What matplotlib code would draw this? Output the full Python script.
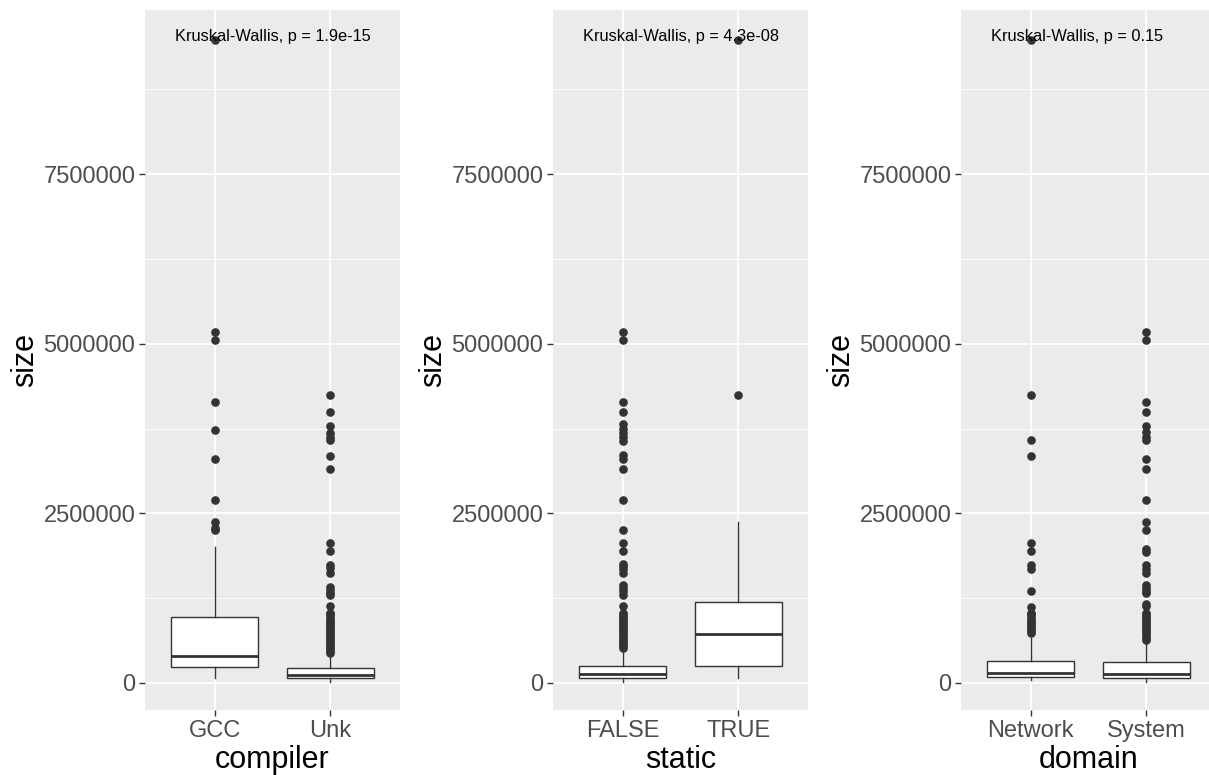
import matplotlib
matplotlib.use("Agg")
import matplotlib.pyplot as plt
from matplotlib.ticker import FixedLocator, FuncFormatter

plt.rcParams['font.family'] = ['Liberation Sans', 'DejaVu Sans']

# ---------------- data ----------------
panel_vars = ["compiler", "static", "domain"]
panel_pvals = ["Kruskal-Wallis, p = 1.9e-15", "Kruskal-Wallis, p = 4.3e-08", "Kruskal-Wallis, p = 0.15"]

compiler_cats = ["GCC", "Unk"]
compiler_whislo = [69000, 20000]
compiler_q1 = [240000, 69000]
compiler_med = [398000, 118000]
compiler_q3 = [977000, 225000]
compiler_whishi = [2000000, 420000]
gcc_out = [9470000, 5170000, 5050000, 4140000, 3730000, 3300000, 2700000, 2370000, 2290000, 2250000]
unk_out = [440000, 470000, 500000, 530000, 560000, 590000, 620000, 650000, 680000, 710000,
           740000, 770000, 800000, 830000, 860000, 890000, 920000, 950000, 980000, 1010000,
           1030000, 1140000, 1300000, 1330000, 1370000, 1420000, 1620000, 1690000, 1740000,
           1950000, 2060000, 3160000, 3350000, 3580000, 3630000, 3690000, 3780000, 4000000, 4250000]

static_cats = ["FALSE", "TRUE"]
static_whislo = [20000, 69000]
static_q1 = [69000, 255000]
static_med = [133000, 722000]
static_q3 = [255000, 1190000]
static_whishi = [511000, 2370000]
false_out = [520000, 550000, 580000, 610000, 640000, 670000, 700000, 730000, 760000, 790000,
             820000, 850000, 880000, 910000, 940000, 970000, 1000000, 1030000, 1135000,
             1300000, 1350000, 1400000, 1440000, 1620000, 1680000, 1720000, 1760000,
             1940000, 2060000, 2250000, 2700000, 3160000, 3300000, 3360000, 3560000,
             3620000, 3680000, 3740000, 3820000, 4000000, 4140000, 5050000, 5170000]
true_out = [4250000, 9470000]

domain_cats = ["Network", "System"]
domain_whislo = [50000, 20000]
domain_q1 = [84000, 69000]
domain_med = [152000, 133000]
domain_q3 = [329000, 309000]
domain_whishi = [658000, 634000]
network_out = [740000, 770000, 800000, 830000, 860000, 890000, 920000, 950000, 980000, 1010000,
               1030000, 1120000, 1360000, 1680000, 1740000, 1945000, 2060000, 3350000, 3580000,
               4250000, 9470000]
system_out = [640000, 670000, 700000, 730000, 760000, 790000, 820000, 850000, 880000, 910000,
              940000, 970000, 1000000, 1030000, 1130000, 1170000, 1320000, 1360000, 1400000,
              1440000, 1620000, 1680000, 1740000, 1930000, 1980000, 2250000, 2370000, 2700000,
              3160000, 3300000, 3580000, 3630000, 3700000, 3780000, 4000000, 4140000, 5050000,
              5170000]

y_ticks = [0, 2500000, 5000000, 7500000]
y_minor = [1250000, 3750000, 6250000, 8750000]

panels = [
    (compiler_cats, compiler_whislo, compiler_q1, compiler_med, compiler_q3, compiler_whishi, [gcc_out, unk_out]),
    (static_cats, static_whislo, static_q1, static_med, static_q3, static_whishi, [false_out, true_out]),
    (domain_cats, domain_whislo, domain_q1, domain_med, domain_q3, domain_whishi, [network_out, system_out]),
]

# ---------------- figure ----------------
W, H = 1209, 775
fig = plt.figure(figsize=(W / 100, H / 100), dpi=100)
lefts_px = [145, 553, 961]
pw, top_px, bot_px = 255, 10, 710

grey20 = "#333333"
for i, (cats, wlo, q1, med, q3, whi, outs) in enumerate(panels):
    ax = fig.add_axes([lefts_px[i] / W, (H - bot_px) / H, pw / W, (bot_px - top_px) / H])
    ax.set_facecolor("#EBEBEB")
    for s in ax.spines.values():
        s.set_visible(False)
    stats = []
    for j in range(len(cats)):
        stats.append(dict(whislo=wlo[j], q1=q1[j], med=med[j], q3=q3[j], whishi=whi[j],
                          fliers=outs[j], label=cats[j]))
    ax.bxp(stats, positions=[1, 2], widths=0.75, patch_artist=True, showcaps=False,
           boxprops=dict(facecolor="white", edgecolor=grey20, linewidth=1.0),
           medianprops=dict(color=grey20, linewidth=2.0),
           whiskerprops=dict(color=grey20, linewidth=1.0),
           flierprops=dict(marker="o", markersize=5.2, markerfacecolor=grey20,
                           markeredgecolor=grey20, linestyle="none"),
           zorder=3)
    ax.set_xlim(0.4, 2.6)
    ax.set_ylim(-398000, 9917000)
    ax.yaxis.set_major_locator(FixedLocator(y_ticks))
    ax.yaxis.set_minor_locator(FixedLocator(y_minor))
    ax.yaxis.set_major_formatter(FuncFormatter(lambda v, p: "%d" % v))
    ax.set_xticks([1, 2])
    ax.set_xticklabels(cats)
    ax.grid(True, which="major", color="white", linewidth=1.3, zorder=0)
    ax.grid(True, which="minor", axis="y", color="white", linewidth=0.6, zorder=0)
    ax.set_axisbelow(True)
    ax.tick_params(axis="both", which="major", length=4, width=1.0, color=grey20,
                   labelsize=17, labelcolor="#4D4D4D", pad=3)
    ax.tick_params(axis="y", which="minor", length=0)
    ax.set_ylabel("size", fontsize=22, color="black")
    ax.yaxis.set_label_coords(-0.47, 0.5)
    ax.set_xlabel(panel_vars[i], fontsize=22, color="black")
    ax.xaxis.set_label_coords(0.5, -0.072)
    ax.xaxis.label.set_va("center")
    ax.yaxis.label.set_va("center")
    ax.text(0.66, 9520000, panel_pvals[i], fontsize=11.8, ha="left", va="center",
            color="black", zorder=4)

fig.savefig("out.png", dpi=100)
